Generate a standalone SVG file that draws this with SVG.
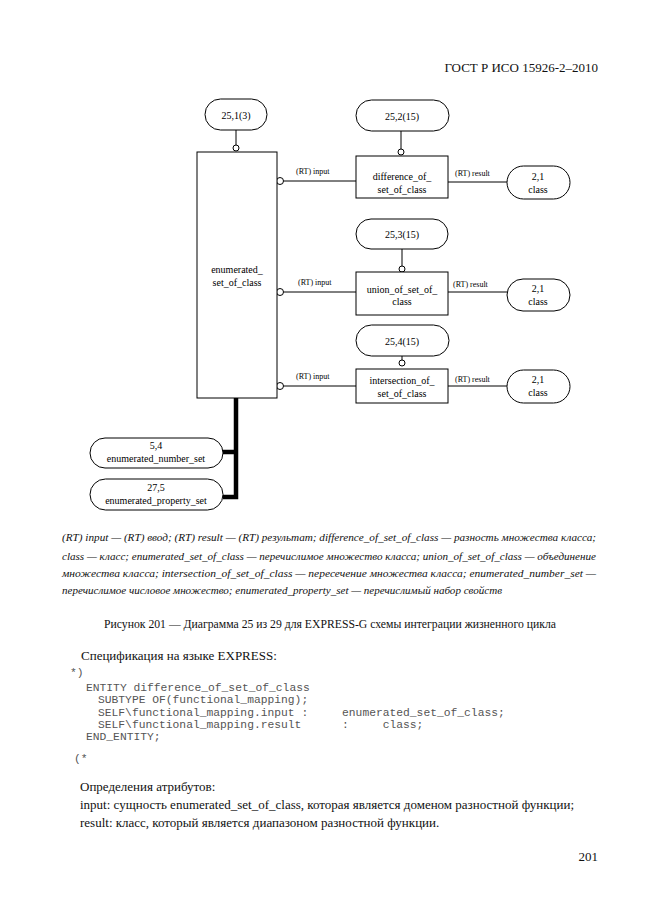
<svg xmlns="http://www.w3.org/2000/svg" width="661" height="913" viewBox="0 0 661 913">
<style>
.bg{fill:#fff}
.box{fill:#fff;stroke:#000;stroke-width:1}
.ln{fill:none;stroke:#000;stroke-width:1}
.thick{fill:none;stroke:#000;stroke-width:4.5}
.dot{fill:#fff;stroke:#000;stroke-width:1}
.t{font-family:"Liberation Serif","Times New Roman",serif;font-size:10px;fill:#000;text-anchor:middle}
.lab{font-family:"Liberation Serif","Times New Roman",serif;font-size:8px;fill:#000}
.body{font-family:"Liberation Serif","Times New Roman",serif;font-size:13px;fill:#111}
.leg{font-family:"Liberation Serif","Times New Roman",serif;font-size:10.5px;font-style:italic;fill:#111}
.cap{font-family:"Liberation Serif","Times New Roman",serif;font-size:11.5px;fill:#111}
.code{font-family:"Liberation Mono","Courier New",monospace;font-size:11.3px;fill:#555;white-space:pre}
</style>
<rect class="bg" x="0" y="0" width="661" height="913"/>
<text class="body" x="598" y="72" text-anchor="end" font-size="12.5">ГОСТ Р ИСО 15926-2–2010</text>

<g id="connectors">
  <line class="ln" x1="236" y1="130" x2="236" y2="145"/>
  <circle class="dot" cx="236" cy="148" r="3"/>
  <line class="ln" x1="401" y1="131" x2="401" y2="149"/>
  <circle class="dot" cx="401" cy="152" r="3"/>
  <line class="ln" x1="402" y1="249" x2="402" y2="266"/>
  <circle class="dot" cx="402" cy="269" r="3"/>
  <line class="ln" x1="402" y1="356" x2="402" y2="360"/>
  <circle class="dot" cx="402" cy="363" r="3"/>

  <line class="ln" x1="283.5" y1="181" x2="356" y2="181"/>
  <circle class="dot" cx="280" cy="181" r="3.5"/>
  <text class="lab" x="296" y="174">(RT) input</text>
  <line class="ln" x1="448" y1="182" x2="507" y2="182"/>
  <text class="lab" x="455" y="176">(RT) result</text>

  <line class="ln" x1="283.5" y1="292" x2="356" y2="292"/>
  <circle class="dot" cx="280" cy="292" r="3.5"/>
  <text class="lab" x="298" y="285">(RT) input</text>
  <line class="ln" x1="448" y1="292" x2="507" y2="292"/>
  <text class="lab" x="453" y="287">(RT) result</text>

  <line class="ln" x1="283.5" y1="386" x2="356" y2="386"/>
  <circle class="dot" cx="280" cy="386" r="3.5"/>
  <text class="lab" x="296" y="379">(RT) input</text>
  <line class="ln" x1="448" y1="386" x2="507" y2="386"/>
  <text class="lab" x="455" y="382">(RT) result</text>

  <polyline class="thick" points="236,398 236,497 223,497"/>
  <line class="thick" x1="236" y1="452" x2="223" y2="452"/>
</g>

<g id="n251">
  <rect class="box" x="205" y="99" width="62" height="31" rx="15.5"/>
  <text class="t" x="236" y="119">25,1(3)</text>
</g>
<g id="enumerated_set_of_class">
  <rect class="box" x="197" y="152" width="80" height="246"/>
  <text class="t" x="237" y="273">enumerated_</text>
  <text class="t" x="237" y="286">set_of_class</text>
</g>
<g id="n252">
  <rect class="box" x="356" y="100" width="93" height="31" rx="15.5"/>
  <text class="t" x="402" y="120">25,2(15)</text>
</g>
<g id="difference_of_set_of_class">
  <rect class="box" x="356" y="156" width="92" height="42"/>
  <text class="t" x="402" y="180">difference_of_</text>
  <text class="t" x="402" y="193">set_of_class</text>
</g>
<g id="class1">
  <rect class="box" x="507" y="166" width="63" height="33" rx="16.5"/>
  <text class="t" x="538" y="180">2,1</text>
  <text class="t" x="538" y="193">class</text>
</g>
<g id="n253">
  <rect class="box" x="356" y="219" width="92" height="30" rx="15"/>
  <text class="t" x="402" y="238">25,3(15)</text>
</g>
<g id="union_of_set_of_class">
  <rect class="box" x="356" y="272" width="92" height="43"/>
  <text class="t" x="402" y="293">union_of_set_of_</text>
  <text class="t" x="402" y="305">class</text>
</g>
<g id="class2">
  <rect class="box" x="507" y="279" width="63" height="32" rx="16"/>
  <text class="t" x="538" y="292">2,1</text>
  <text class="t" x="538" y="305">class</text>
</g>
<g id="n254">
  <rect class="box" x="356" y="325" width="93" height="31" rx="15.5"/>
  <text class="t" x="402" y="345">25,4(15)</text>
</g>
<g id="intersection_of_set_of_class">
  <rect class="box" x="356" y="369" width="92" height="34"/>
  <text class="t" x="402" y="384">intersection_of_</text>
  <text class="t" x="402" y="397">set_of_class</text>
</g>
<g id="class3">
  <rect class="box" x="507" y="370" width="63" height="33" rx="16.5"/>
  <text class="t" x="538" y="383">2,1</text>
  <text class="t" x="538" y="396">class</text>
</g>
<g id="enumerated_number_set">
  <rect class="box" x="90" y="438" width="133" height="30" rx="15"/>
  <text class="t" x="156" y="449">5,4</text>
  <text class="t" x="156" y="462">enumerated_number_set</text>
</g>
<g id="enumerated_property_set">
  <rect class="box" x="90" y="479" width="133" height="31" rx="15.5"/>
  <text class="t" x="156" y="491">27,5</text>
  <text class="t" x="156" y="504">enumerated_property_set</text>
</g>

<g id="legend">
  <text class="leg" x="62" y="541" textLength="534" lengthAdjust="spacingAndGlyphs">(RT) input — (RT) ввод; (RT) result — (RT) результат; difference_of_set_of_class — разность множества класса;</text>
  <text class="leg" x="62" y="560" textLength="534" lengthAdjust="spacingAndGlyphs">class — класс; enumerated_set_of_class — перечислимое множество класса; union_of_set_of_class — объединение</text>
  <text class="leg" x="62" y="577" textLength="534" lengthAdjust="spacingAndGlyphs">множества класса; intersection_of_set_of_class — пересечение множества класса; enumerated_number_set —</text>
  <text class="leg" x="62" y="594" textLength="440" lengthAdjust="spacingAndGlyphs">перечислимое числовое множество; enumerated_property_set — перечислимый набор свойств</text>
</g>

<text class="cap" x="104" y="628" textLength="452" lengthAdjust="spacingAndGlyphs">Рисунок 201 — Диаграмма 25 из 29 для EXPRESS-G схемы интеграции жизненного цикла</text>

<text class="body" x="81" y="660">Спецификация на языке EXPRESS:</text>
<text class="code" x="70" y="676" xml:space="preserve">*)</text>
<text class="code" x="86" y="691" xml:space="preserve">ENTITY difference_of_set_of_class</text>
<text class="code" x="98" y="703" xml:space="preserve">SUBTYPE OF(functional_mapping);</text>
<text class="code" x="98" y="716" xml:space="preserve">SELF\functional_mapping.input :     enumerated_set_of_class;</text>
<text class="code" x="98" y="728" xml:space="preserve">SELF\functional_mapping.result      :     class;</text>
<text class="code" x="86" y="740" xml:space="preserve">END_ENTITY;</text>
<text class="code" x="74" y="762" xml:space="preserve">(*</text>

<text class="body" x="80" y="791">Определения атрибутов:</text>
<text class="body" x="80" y="809">input: сущность enumerated_set_of_class, которая является доменом разностной функции;</text>
<text class="body" x="80" y="827">result: класс, который является диапазоном разностной функции.</text>

<text class="body" x="598" y="861" text-anchor="end">201</text>
</svg>
